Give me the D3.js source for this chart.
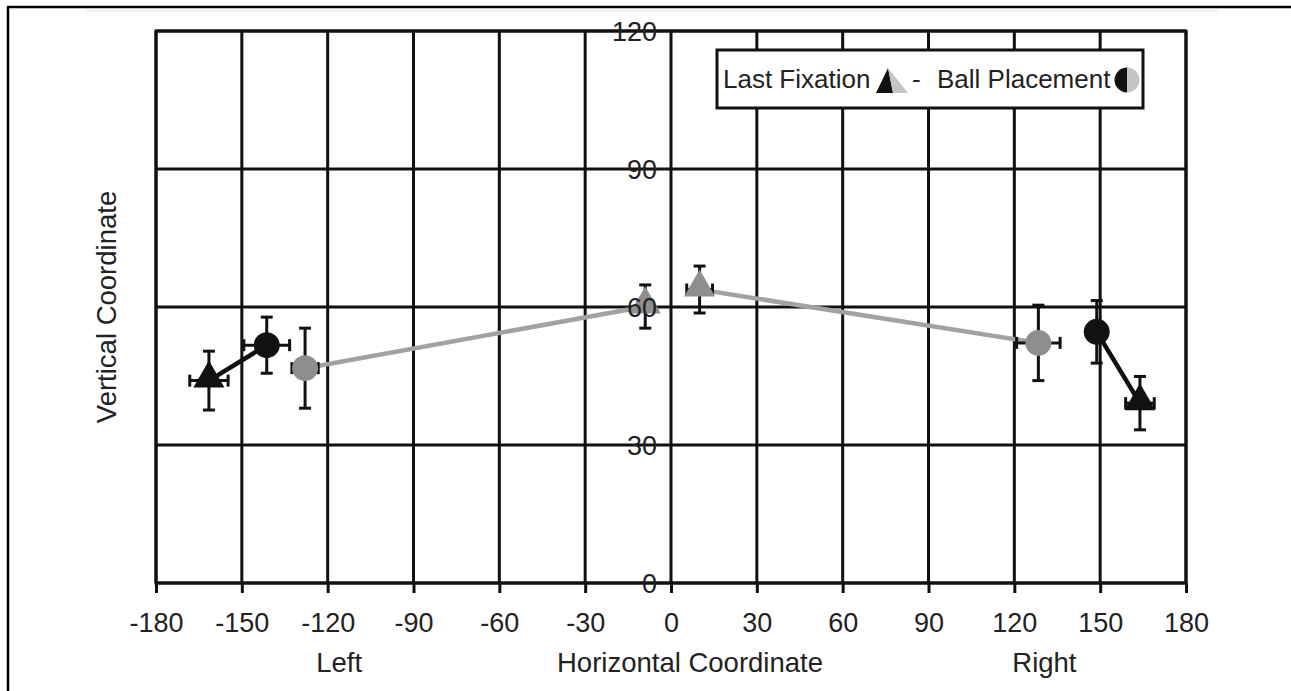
<!DOCTYPE html>
<html>
<head>
<meta charset="utf-8">
<script src="https://cdn.jsdelivr.net/npm/d3@7"></script>
<style>
  html, body { margin: 0; padding: 0; background: #fff; }
  svg { display: block; font-family: "Liberation Sans", Arial, sans-serif; }
</style>
</head>
<body>
<svg id="chart" width="1291" height="691"></svg>
<script>
// Axis ticks
const xTicks = [-180, -150, -120, -90, -60, -30, 0, 30, 60, 90, 120, 150, 180];
const yTicks = [0, 30, 60, 90, 120];

// Last fixation (triangles): x, y, horizontal and vertical error
const fixGroup = ["black", "grey", "grey", "black"];
const fixX    = [-161.5, -9.0, 10.0, 163.9];
const fixY    = [44.0, 60.1, 63.8, 39.1];
const fixXErr = [6.7, 2.5, 4.5, 5.0];
const fixYErr = [6.4, 4.7, 5.1, 5.8];

// Ball placement (circles)
const ballGroup = ["black", "grey", "grey", "black"];
const ballX    = [-141.3, -127.9, 128.4, 148.8];
const ballY    = [51.7, 46.7, 52.2, 54.6];
const ballXErr = [8.0, 4.6, 7.6, 2.0];
const ballYErr = [6.1, 8.7, 8.2, 6.8];

// Each fixation is joined to the ball placement of the same trial side
const links = [[0, 0], [1, 1], [2, 2], [3, 3]];

const markerFill = { black: "#111111", grey: "#8e8e8e" };
const lineColor  = { black: "#111111", grey: "#a2a2a2" };

const svg = d3.select("#chart");
const x = d3.scaleLinear().domain([-180, 180]).range([156, 1186]);
const y = d3.scaleLinear().domain([0, 120]).range([583, 31]);

// Outer frame lines
svg.append("line").attr("x1", 7.5).attr("x2", 1291).attr("y1", 7).attr("y2", 7)
  .attr("stroke", "#000").attr("stroke-width", 2.5);
svg.append("line").attr("x1", 8).attr("x2", 8).attr("y1", 6).attr("y2", 691)
  .attr("stroke", "#000").attr("stroke-width", 2.5);
svg.append("line").attr("x1", 86).attr("x2", 1218).attr("y1", 10.5).attr("y2", 10.5)
  .attr("stroke", "#ececec").attr("stroke-width", 1.5);

// Grid
const grid = svg.append("g").attr("stroke", "#111").attr("stroke-width", 3);
grid.selectAll("line.v").data(xTicks).join("line")
  .attr("x1", d => x(d)).attr("x2", d => x(d))
  .attr("y1", y(120)).attr("y2", y(0));
grid.selectAll("line.h").data(yTicks).join("line")
  .attr("x1", x(-180)).attr("x2", x(180))
  .attr("y1", d => y(d)).attr("y2", d => y(d));
grid.append("rect")
  .attr("x", x(-180)).attr("y", y(120))
  .attr("width", x(180) - x(-180)).attr("height", y(0) - y(120))
  .attr("fill", "none");

// X-axis tick marks and labels (plain hyphen for negatives)
const xAxis = d3.axisBottom(x).tickValues(xTicks).tickSize(10).tickFormat(d => String(d));
const xg = svg.append("g").attr("transform", `translate(0,${y(0)})`).call(xAxis);
xg.select(".domain").remove();
xg.selectAll(".tick line").attr("stroke", "#111").attr("stroke-width", 3);
xg.selectAll(".tick text")
  .attr("y", 49).attr("dy", null)
  .attr("fill", "#222").attr("font-size", 27)
  .attr("font-family", "'Liberation Sans', Arial, sans-serif");

// Connecting lines
const lineGen = d3.line().x(d => x(d[0])).y(d => y(d[1]));
svg.append("g").selectAll("path").data(links).join("path")
  .attr("d", ([f, b]) => lineGen([[fixX[f], fixY[f]], [ballX[b], ballY[b]]]))
  .attr("fill", "none")
  .attr("stroke", ([f]) => lineColor[fixGroup[f]])
  .attr("stroke-width", 4.5);

// Error bars with caps
function errorBars(g, xs, ys, xe, ye) {
  const cap = 6;
  const idx = d3.range(xs.length);
  const eb = g.append("g").attr("stroke", "#111").attr("stroke-width", 3);
  eb.selectAll("line.vy").data(idx).join("line")
    .attr("x1", i => x(xs[i])).attr("x2", i => x(xs[i]))
    .attr("y1", i => y(ys[i] + ye[i])).attr("y2", i => y(ys[i] - ye[i]));
  eb.selectAll("line.vt").data(idx).join("line")
    .attr("x1", i => x(xs[i]) - cap).attr("x2", i => x(xs[i]) + cap)
    .attr("y1", i => y(ys[i] + ye[i])).attr("y2", i => y(ys[i] + ye[i]));
  eb.selectAll("line.vb").data(idx).join("line")
    .attr("x1", i => x(xs[i]) - cap).attr("x2", i => x(xs[i]) + cap)
    .attr("y1", i => y(ys[i] - ye[i])).attr("y2", i => y(ys[i] - ye[i]));
  eb.selectAll("line.hx").data(idx).join("line")
    .attr("x1", i => x(xs[i] - xe[i])).attr("x2", i => x(xs[i] + xe[i]))
    .attr("y1", i => y(ys[i])).attr("y2", i => y(ys[i]));
  eb.selectAll("line.hl").data(idx).join("line")
    .attr("x1", i => x(xs[i] - xe[i])).attr("x2", i => x(xs[i] - xe[i]))
    .attr("y1", i => y(ys[i]) - cap).attr("y2", i => y(ys[i]) + cap);
  eb.selectAll("line.hr").data(idx).join("line")
    .attr("x1", i => x(xs[i] + xe[i])).attr("x2", i => x(xs[i] + xe[i]))
    .attr("y1", i => y(ys[i]) - cap).attr("y2", i => y(ys[i]) + cap);
}
errorBars(svg, fixX, fixY, fixXErr, fixYErr);
errorBars(svg, ballX, ballY, ballXErr, ballYErr);

// Markers
const tri = d3.symbol().type(d3.symbolTriangle).size(420);
svg.append("g").selectAll("path").data(d3.range(fixX.length)).join("path")
  .attr("d", tri)
  .attr("transform", i => `translate(${x(fixX[i])},${y(fixY[i]) - 2})`)
  .attr("fill", i => markerFill[fixGroup[i]]);
svg.append("g").selectAll("circle").data(d3.range(ballX.length)).join("circle")
  .attr("cx", i => x(ballX[i])).attr("cy", i => y(ballY[i]))
  .attr("r", 13)
  .attr("fill", i => markerFill[ballGroup[i]]);

// Y-axis labels sit beside the zero line
svg.append("g").selectAll("text").data(yTicks).join("text")
  .attr("x", x(0) - 14).attr("y", d => y(d) + 10)
  .attr("text-anchor", "end")
  .attr("font-size", 27).attr("fill", "#222")
  .text(d => d);

// Axis titles
svg.append("text").attr("x", x(-116)).attr("y", 672).attr("text-anchor", "middle")
  .attr("font-size", 27.5).attr("fill", "#222").text("Left");
svg.append("text").attr("x", 690).attr("y", 672).attr("text-anchor", "middle")
  .attr("font-size", 27.5).attr("fill", "#222").text("Horizontal Coordinate");
svg.append("text").attr("x", x(130.5)).attr("y", 672).attr("text-anchor", "middle")
  .attr("font-size", 27.5).attr("fill", "#222").text("Right");
svg.append("text")
  .attr("transform", `translate(116,${y(60)}) rotate(-90)`)
  .attr("text-anchor", "middle")
  .attr("font-size", 27.5).attr("fill", "#222").text("Vertical Coordinate");

// Legend
const lg = svg.append("g").attr("transform", "translate(717,50)");
lg.append("rect").attr("width", 426).attr("height", 58)
  .attr("fill", "#fff").attr("stroke", "#111").attr("stroke-width", 3);
lg.append("text").attr("x", 6).attr("y", 38).attr("font-size", 26).attr("fill", "#222")
  .text("Last Fixation");
lg.append("path").attr("d", "M159,43 L171,18 L176,43 Z").attr("fill", "#111");
lg.append("path").attr("d", "M171,18 L191,43 L176,43 Z").attr("fill", "#c4c4c4");
lg.append("text").attr("x", 195).attr("y", 38).attr("font-size", 26).attr("fill", "#222")
  .text("-");
lg.append("text").attr("x", 220).attr("y", 38).attr("font-size", 26).attr("fill", "#222")
  .text("Ball Placement");
const arcHalf = d3.arc().innerRadius(0).outerRadius(12.5);
lg.append("path").attr("transform", "translate(410,30)")
  .attr("d", arcHalf({ startAngle: 0, endAngle: Math.PI })).attr("fill", "#c4c4c4");
lg.append("path").attr("transform", "translate(410,30)")
  .attr("d", arcHalf({ startAngle: Math.PI, endAngle: 2 * Math.PI })).attr("fill", "#111");
</script>
</body>
</html>
